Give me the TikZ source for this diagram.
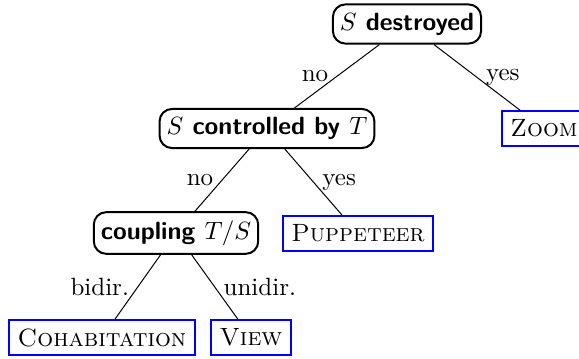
\documentclass[tikz,border=0pt]{standalone}
\usepackage{tikz}

\begin{document}
\begin{tikzpicture}[x=0.4pt,y=-0.4pt,
  decision/.style={draw,thick,rounded corners=5pt,inner xsep=2.8pt,font=\sffamily\bfseries},
  outcome/.style={draw=blue,thick,font=\scshape}]

\useasboundingbox (0,0) rectangle (579,359);

% questions
\node[decision] (destroyed) at (407,24) {$S$ destroyed};
\node[decision] (controlled) at (267,128.5) {$S$ controlled by $T$};
\node[decision] (coupling) at (176,233) {coupling $T/S$};

% outcomes
\node[outcome] (zoom) at (544,128.5) {Zoom};
\node[outcome] (puppeteer) at (358,233.5) {Puppeteer};
\node[outcome] (cohabitation) at (102,337.5) {Cohabitation};
\node[outcome] (view) at (251,337.5) {View};

\draw (destroyed) -- node[left] {no} (controlled);
\draw (destroyed) -- node[right] {yes} (zoom);
\draw (controlled) -- node[left] {no} (coupling);
\draw (controlled) -- node[right] {yes} (puppeteer);
\draw (coupling) -- node[left] {bidir.} (cohabitation);
\draw (coupling) -- node[right] {unidir.} (view);

\end{tikzpicture}
\end{document}
